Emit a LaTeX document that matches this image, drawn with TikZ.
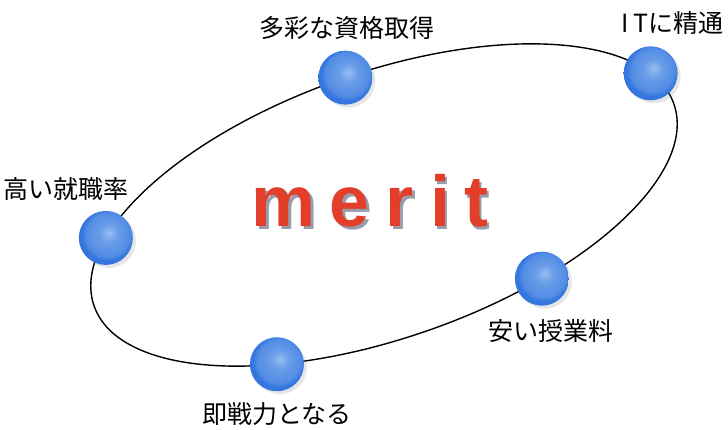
\documentclass[tikz,border=0pt]{standalone}
\usepackage{fontspec}
\usepackage{tikz}
\usetikzlibrary{shadows,positioning}
\newfontfamily\jpfont{Noto Sans CJK JP}
\newfontfamily\meritfont{Liberation Sans}
\definecolor{ballhi}{RGB}{150,190,242}
\definecolor{ballmid}{RGB}{104,156,232}
\definecolor{balledge}{RGB}{52,118,222}
\definecolor{meritred}{RGB}{226,62,42}
\definecolor{meritshade}{RGB}{150,158,172}
\pgfdeclareradialshading{sphere}{\pgfpoint{3bp}{5bp}}{color(0bp)=(ballhi);
  color(9bp)=(ballmid); color(20bp)=(ballmid!60!balledge);
  color(24bp)=(balledge); color(50bp)=(balledge)}
\tikzstyle{ring}  =[line width=1.4pt]
\tikzstyle{ball}  =[circle, minimum size=54pt, inner sep=0pt,
                    shade, shading=sphere,
                    drop shadow={opacity=0.2, fill=gray,
                    shadow xshift=3pt, shadow yshift=-3pt}]
\tikzstyle{tag}   =[inner sep=0pt, font=\jpfont\fontsize{25}{30}\selectfont]
\tikzstyle{letter}=[inner sep=0pt, anchor=base, text=meritred,
                    font=\meritfont\bfseries\fontsize{72}{72}\selectfont]
\newcommand{\shadowed}[1]{\rlap{\kern2.5pt\raisebox{-2.5pt}{\color{meritshade}#1}}#1}

\begin{document}
\begin{tikzpicture}[x=1pt, y=1pt, node distance=50pt, on grid]
    \useasboundingbox (0,0) rectangle (728,430);
    \begin{scope}[shift={(384,225)}, rotate=19.2]
        \draw[ring] (0,0) ellipse [x radius=307pt, y radius=133pt];
        \coordinate (pa) at (89:307pt and 133pt);
        \coordinate (pb) at (16:307pt and 133pt);
        \coordinate (pc) at (153:307pt and 133pt);
        \coordinate (pd) at (240:307pt and 133pt);
        \coordinate (pe) at (-66:307pt and 133pt);
    \end{scope}
    \node[ball] (a) at (pa) {};
    \node[ball] (b) at (pb) {};
    \node[ball] (c) at (pc) {};
    \node[ball] (d) at (pd) {};
    \node[ball] (e) at (pe) {};
    \node[tag, above right=50pt and 2pt of a] (A) {多彩な資格取得};
    \node[tag, above right=50pt and 22pt of b] (B) {I\,Tに精通};
    \node[tag, above left=49pt and 40pt of c] (C) {高い就職率};
    \node[tag, below=50pt of d] (D) {即戦力となる};
    \node[tag, below right=52pt and 9pt of e] (E) {安い授業料};
    \foreach \ch/\px [count=\n] in {m/284, e/350, r/400, i/440, t/476}
        \node[letter] (w\n) at (\px, 203) {\shadowed{\ch}};
\end{tikzpicture}
\end{document}
